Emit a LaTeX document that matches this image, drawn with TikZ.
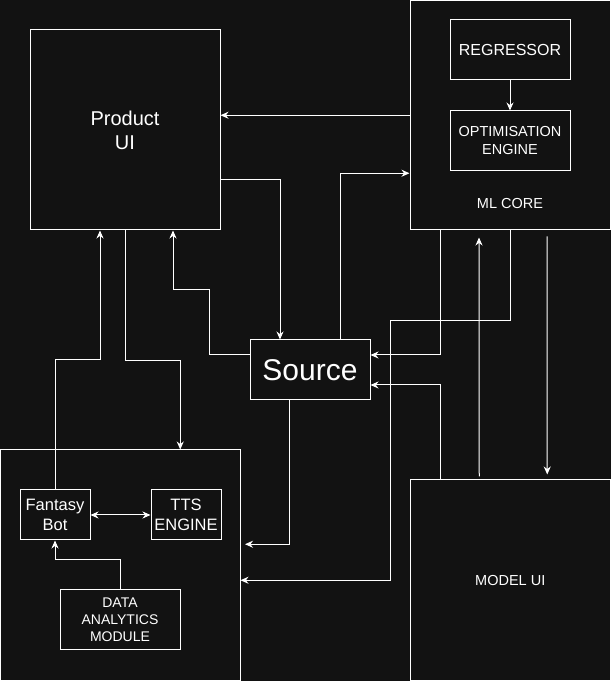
\documentclass[tikz,border=0pt]{standalone}
\usepackage{fontspec}
\setmainfont{Liberation Sans}
\usepackage{tikz}
\usetikzlibrary{arrows.meta, positioning}
\definecolor{bgdark}{RGB}{18,18,18}

\begin{document}
\begin{tikzpicture}[x=1pt, y=1pt, node distance=30pt and 60pt,
        box/.style={draw=white, line width=1pt, fill=bgdark, text=white, align=center, inner sep=0pt},
        arr/.style={draw=white, line width=1pt, -{Stealth[length=8pt, width=7pt]}},
        lbl/.style={text=white, align=center, inner sep=0pt}]

                \fill[bgdark] (0,0) rectangle (611,681);
                \useasboundingbox (0,0) rectangle (611,681);

                % Nodes
                \node (pui) [box, minimum width=190pt, minimum height=200pt, font=\fontsize{20}{24}\selectfont] at (125,551) {Product\\UI};
                \node (ml) [box, minimum width=200pt, minimum height=229.5pt] at (510,565.75) {};
                \node (reg) [box, minimum width=120pt, minimum height=60pt, font=\fontsize{16}{19}\selectfont] at (510,631) {REGRESSOR};
                \node (opt) [below=of reg, box, minimum width=120pt, minimum height=60pt, font=\fontsize{14.5}{18}\selectfont] {OPTIMISATION\\ENGINE};
                \node (mllbl) [lbl, font=\fontsize{14.5}{18}\selectfont] at (510,477) {ML CORE};
                \node (src) [box, minimum width=120pt, minimum height=60pt, font=\fontsize{30}{36}\selectfont] at (310,311) {Source};
                \node (lbox) [box, minimum width=239.5pt, minimum height=230.5pt] at (120.25,115.75) {};
                \node (fbot) [box, minimum width=70pt, minimum height=50pt, font=\fontsize{16.5}{20.5}\selectfont] at (55,166) {Fantasy\\Bot};
                \node (tts) [right=of fbot, box, minimum width=70pt, minimum height=50pt, font=\fontsize{16.5}{20.5}\selectfont] {TTS\\ENGINE};
                \node (dam) [box, minimum width=120pt, minimum height=60pt, font=\fontsize{14}{17}\selectfont] at (120,61) {DATA\\ANALYTICS\\MODULE};
                \node (mui) [box, minimum width=200.5pt, minimum height=200.5pt, font=\fontsize{14.5}{18}\selectfont] at (510.25,100.75) {MODEL UI};

                % Edges
                \draw[arr] (reg) -- (opt);
                \draw[arr] (ml.west) -- (ml.west -| pui.east);
                \draw[arr] ([yshift=-50pt]pui.east) -| ([xshift=-30pt]src.north);
                \draw[arr] ([xshift=30pt]src.north) |- ([yshift=-58pt]ml.west);
                \draw[arr] (fbot.north) -- ++(0,130) -| ([xshift=-25pt]pui.south);
                \draw[arr] (pui.south) -- ++(0,-130) -| ([xshift=60pt]lbox.north);
                \draw[arr] ([yshift=15pt]src.west) -- ++(-40,0) -- ++(0,65) -| ([xshift=48pt]pui.south);
                \draw[arr] ([xshift=-70pt]ml.south) |- ([yshift=15pt]src.east);
                \draw[arr] (ml.south) -- ++(0,-90) -- ++(-120,0) |- ([yshift=-15pt]lbox.east);
                \draw[arr] ([xshift=-31pt,yshift=3pt]mui.north) -- ([xshift=-31pt,yshift=-7pt]ml.south);
                \draw[arr] ([xshift=37pt,yshift=-6pt]ml.south) -- ([xshift=37pt,yshift=5pt]mui.north);
                \draw[arr] ([xshift=-70pt]mui.north) |- ([yshift=-15pt]src.east);
                \draw[arr] ([xshift=-21pt]src.south) |- ([xshift=4.5pt,yshift=21pt]lbox.east);
                \draw[arr] (dam.north) -- ++(0,30) -| (fbot.south);
                \draw[arr, {Stealth[length=8pt, width=7pt]}-{Stealth[length=8pt, width=7pt]}] (fbot.east) -- (tts.west);
            \end{tikzpicture}
\end{document}
